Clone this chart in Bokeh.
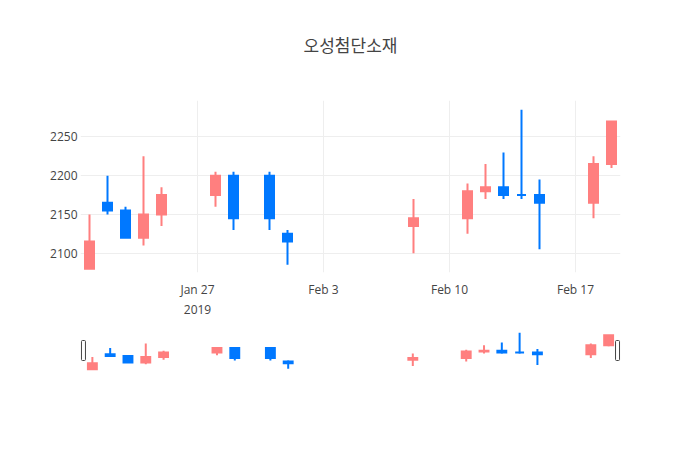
import pandas as pd
from bokeh.plotting import figure
from bokeh.models import Range1d, FixedTicker, ColumnDataSource, DatetimeTickFormatter, Title
from bokeh.layouts import column
from bokeh.embed import file_html
from bokeh.resources import INLINE

# ---- data ----
dates = ["2019-01-21", "2019-01-22", "2019-01-23", "2019-01-24", "2019-01-25",
         "2019-01-28", "2019-01-29", "2019-01-31", "2019-02-01", "2019-02-08",
         "2019-02-11", "2019-02-12", "2019-02-13", "2019-02-14", "2019-02-15",
         "2019-02-18", "2019-02-19"]
open_ = [2080, 2165, 2155, 2120, 2150, 2175, 2200, 2200, 2125, 2135,
         2145, 2180, 2185, 2175, 2175, 2165, 2215]
high = [2150, 2200, 2160, 2225, 2185, 2205, 2205, 2205, 2130, 2170,
        2190, 2215, 2230, 2285, 2195, 2225, 2270]
low = [2080, 2150, 2120, 2110, 2135, 2160, 2130, 2130, 2085, 2100,
       2125, 2170, 2170, 2170, 2105, 2145, 2210]
close = [2115, 2155, 2120, 2150, 2175, 2200, 2145, 2145, 2115, 2145,
         2180, 2185, 2175, 2175, 2165, 2215, 2270]

x_tick_dates = ["2019-01-27", "2019-02-03", "2019-02-10", "2019-02-17"]
y_ticks = [2100, 2150, 2200, 2250]
title_text = "오성첨단소재"

INC_COLOR = "#FF7F7F"
DEC_COLOR = "#0078FF"
DAY = 86400000.0

ms = [pd.Timestamp(d).value / 1e6 for d in dates]
tick_ms = [pd.Timestamp(d).value / 1e6 for d in x_tick_dates]
colors = [INC_COLOR if c > o else DEC_COLOR for o, c in zip(open_, close)]
src = ColumnDataSource(dict(
    x=ms, open=open_, high=high, low=low, close=close, color=colors,
    top=[max(o, c) for o, c in zip(open_, close)],
    bottom=[min(o, c) for o, c in zip(open_, close)],
))

x_start = ms[0] - DAY / 2
x_end = ms[-1] + DAY / 2
y_start, y_end = 2075, 2297

# ---- main chart ----
p = figure(width=700, height=320, x_axis_type="datetime",
           x_range=Range1d(x_start, x_end), y_range=Range1d(y_start, y_end),
           output_backend="svg", toolbar_location=None,
           min_border_left=80, min_border_right=80,
           min_border_top=100, min_border_bottom=44)
p.outline_line_color = None
p.background_fill_color = "white"
p.border_fill_color = "white"

p.segment(x0="x", y0="low", x1="x", y1="high", line_color="color",
          line_width=2, source=src)
p.vbar(x="x", width=0.5 * DAY, top="top", bottom="bottom",
       fill_color="color", line_color="color", line_width=2,
       line_join="miter", source=src)

# invisible spacer panel between the frame and the title
p.add_layout(Title(text=" ", text_font_size="38px", standoff=0), "above")
p.title.text = title_text
p.title.align = "center"
p.title.text_font = "Noto Sans CJK KR"
p.title.text_font_size = "17px"
p.title.text_font_style = "normal"
p.title.text_color = "#444444"
p.title.standoff = 0

p.xaxis.ticker = FixedTicker(ticks=tick_ms)
fmt = "%b %-d"
p.xaxis.formatter = DatetimeTickFormatter(
    days=fmt, months=fmt, hours=fmt, hourmin=fmt, years=fmt,
    context=DatetimeTickFormatter(days="%Y", months="%Y", hours="%Y",
                                  hourmin="%Y", years="%Y"),
    context_which="start")
p.yaxis.ticker = FixedTicker(ticks=y_ticks)

for ax in (p.xaxis, p.yaxis):
    ax.axis_line_color = None
    ax.major_tick_line_color = None
    ax.minor_tick_line_color = None
    ax.major_tick_out = 0
    ax.major_label_text_font = "Open Sans"
    ax.major_label_text_font_size = "12px"
    ax.major_label_text_color = "#444444"
p.yaxis.major_label_standoff = 3
p.xaxis.major_label_standoff = 8

p.grid.grid_line_color = "#eeeeee"
p.grid.grid_line_width = 1

# ---- range slider ----
pad = (x_end - x_start) * 3.0 / 540.0
s = figure(width=700, height=130, x_axis_type="datetime",
           x_range=Range1d(x_start - pad, x_end + pad),
           y_range=Range1d(y_start, y_end),
           output_backend="svg", toolbar_location=None,
           x_axis_location=None, y_axis_location=None,
           min_border_left=77, min_border_right=77,
           min_border_top=10, min_border_bottom=80)
s.outline_line_color = None
s.grid.visible = False
s.segment(x0="x", y0="low", x1="x", y1="high", line_color="color",
          line_width=2, source=src)
s.vbar(x="x", width=0.5 * DAY, top="top", bottom="bottom",
       fill_color="color", line_color="color", line_width=2,
       line_join="miter", source=src)
y_mid = (y_start + y_end) / 2
s.rect(x=[x_start, x_end], y=[y_mid, y_mid], width=4, height=20,
       width_units="screen", height_units="screen",
       fill_color="white", line_color="#444444", line_width=1,
       border_radius=1)

layout = column(p, s, spacing=0)
open("out.html", "w").write(file_html(layout, INLINE))
